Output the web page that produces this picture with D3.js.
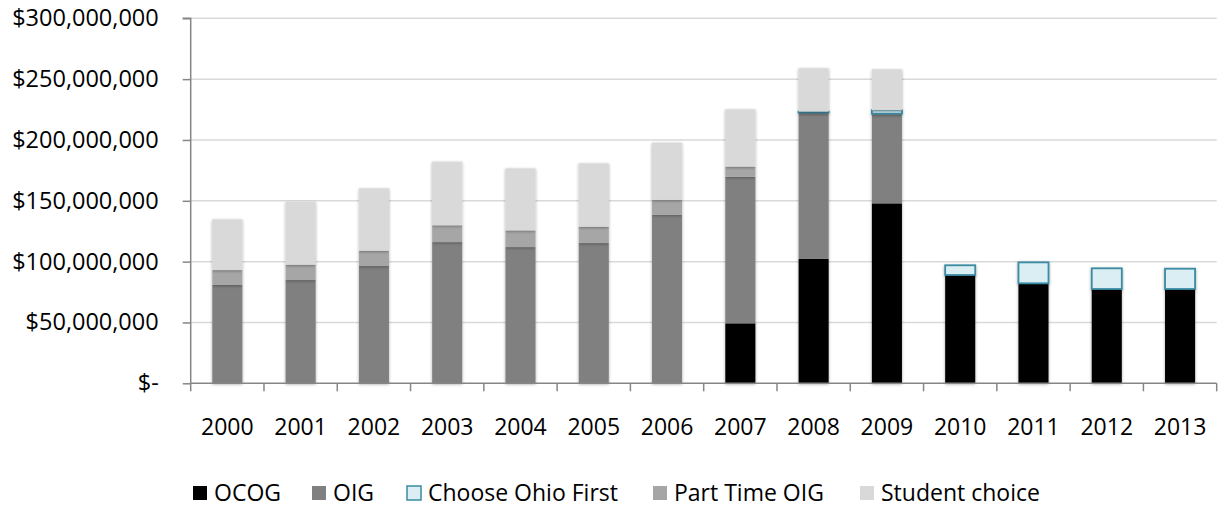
<!DOCTYPE html>
<html>
<head>
<meta charset="utf-8">
<script src="https://cdn.jsdelivr.net/npm/d3@7"></script>
<style>
  html, body { margin: 0; padding: 0; background: #fff; }
  svg { display: block; font-family: "Open Sans", "Liberation Sans", sans-serif; }
</style>
</head>
<body>
<svg id="chart" width="1219" height="509"></svg>
<script>
// Ohio need-based student aid by program, 2000–2013 (dollars)
const years = ["2000","2001","2002","2003","2004","2005","2006","2007","2008","2009","2010","2011","2012","2013"];
const ocog = [0, 0, 0, 0, 0, 0, 0, 49.3e6, 102.4e6, 147.9e6, 89.0e6, 82.2e6, 77.5e6, 77.5e6];
const oig  = [80.8e6, 84.9e6, 96.4e6, 116.1e6, 112.0e6, 115.3e6, 138.6e6, 120.5e6, 120.3e6, 73.7e6, 0, 0, 0, 0];
const chooseOhioFirst = [0, 0, 0, 0, 0, 0, 0, 0, 0.6e6, 2.8e6, 8.0e6, 17.2e6, 17.0e6, 16.7e6];
const partTimeOig = [12.3e6, 12.6e6, 12.6e6, 13.8e6, 13.7e6, 13.4e6, 12.1e6, 8.3e6, 0, 0, 0, 0, 0, 0];
const studentChoice = [41.7e6, 51.8e6, 51.3e6, 52.3e6, 51.0e6, 52.1e6, 47.1e6, 47.1e6, 35.7e6, 33.7e6, 0, 0, 0, 0];
const yTicks = [0, 50e6, 100e6, 150e6, 200e6, 250e6, 300e6];
const seriesNames = ["OCOG", "OIG", "Choose Ohio First", "Part Time OIG", "Student choice"];

const seriesKeys = ["ocog", "oig", "cof", "pt", "sc"];
const fills   = { ocog: "#000000", oig: "#808080", cof: "#DAEEF3", pt: "#A6A6A6", sc: "#D9D9D9" };
const strokes = { cof: "#3A8BA3" };

const rows = years.map((yr, i) => ({
  year: yr, ocog: ocog[i], oig: oig[i], cof: chooseOhioFirst[i], pt: partTimeOig[i], sc: studentChoice[i]
}));

const svg = d3.select("#chart");
const plotLeft = 190.7, plotRight = 1216.7, plotTop = 18.3, plotBottom = 383.3;

const x = d3.scaleBand().domain(years).range([plotLeft, plotRight]).paddingInner(0.59).paddingOuter(0.295);
const y = d3.scaleLinear().domain([0, 300e6]).range([plotBottom, plotTop]);

// soft shadow under the bars
const defs = svg.append("defs");
const f = defs.append("filter").attr("id", "soft").attr("x", "-30%").attr("y", "-10%").attr("width", "160%").attr("height", "120%");
f.append("feDropShadow").attr("dx", 0).attr("dy", 1).attr("stdDeviation", 1.6)
  .attr("flood-color", "#000").attr("flood-opacity", 0.35);

// horizontal gridlines
svg.append("g").selectAll("line").data(yTicks.filter(d => d > 0)).join("line")
  .attr("x1", plotLeft).attr("x2", plotRight)
  .attr("y1", d => y(d)).attr("y2", d => y(d))
  .attr("stroke", "#D9D9D9").attr("stroke-width", 1.5);

// stacked bars
const stack = d3.stack().keys(seriesKeys);
const layers = stack(rows);
const barG = svg.append("g");
layers.forEach(layer => {
  const key = layer.key;
  barG.append("g").attr("filter", "url(#soft)")
    .selectAll("rect").data(layer.filter(d => d[1] - d[0] > 0)).join("rect")
    .attr("x", d => x(d.data.year))
    .attr("width", x.bandwidth())
    .attr("y", d => y(d[1]))
    .attr("height", d => Math.max(0.8, y(d[0]) - y(d[1])))
    .attr("fill", fills[key])
    .attr("stroke", strokes[key] || "none")
    .attr("stroke-width", strokes[key] ? 1.8 : 0);
});

// y axis
const yAxis = d3.axisLeft(y).tickValues(yTicks).tickSize(8).tickPadding(24)
  .tickFormat(d => d === 0 ? "$-" : "$" + d3.format(",")(d));
const yg = svg.append("g").attr("transform", `translate(${plotLeft},0)`).call(yAxis);
yg.select(".domain").attr("stroke", "#868686").attr("stroke-width", 1.5).attr("d", `M-8,${plotTop}H0V${plotBottom}`);
yg.selectAll(".tick line").attr("stroke", "#868686").attr("stroke-width", 1.5);
yg.selectAll(".tick text").attr("fill", "#000").style("font-size", "23.5px")
  .style("font-family", "'Open Sans', sans-serif");

// x axis with ticks on category boundaries
const xg = svg.append("g").attr("transform", `translate(0,${plotBottom})`);
xg.append("line").attr("x1", plotLeft).attr("x2", plotRight).attr("y1", 0).attr("y2", 0)
  .attr("stroke", "#868686").attr("stroke-width", 1.5);
const step = x.step();
xg.selectAll("line.tk").data(d3.range(years.length + 1)).join("line").attr("class", "tk")
  .attr("x1", i => plotLeft + i * step).attr("x2", i => plotLeft + i * step)
  .attr("y1", 0).attr("y2", 8).attr("stroke", "#868686").attr("stroke-width", 1.5);
xg.selectAll("text").data(years).join("text")
  .attr("x", d => x(d) + x.bandwidth() / 2)
  .attr("y", 51.5)
  .attr("text-anchor", "middle")
  .style("font-size", "23px").attr("fill", "#000")
  .text(d => d);

// legend
const legendX = [193, 312, 407, 653, 860];
const legendY = 493;
const lg = svg.append("g");
seriesKeys.forEach((k, i) => {
  const g = lg.append("g").attr("transform", `translate(${legendX[i]},${legendY})`);
  g.append("rect").attr("x", 0).attr("y", -7).attr("width", 14).attr("height", 14)
    .attr("fill", fills[k]).attr("stroke", strokes[k] || "none").attr("stroke-width", strokes[k] ? 1.5 : 0);
  g.append("text").attr("x", 21).attr("y", 0).attr("dy", "0.35em")
    .style("font-size", "23px").attr("fill", "#000").text(seriesNames[i]);
});
</script>
</body>
</html>
